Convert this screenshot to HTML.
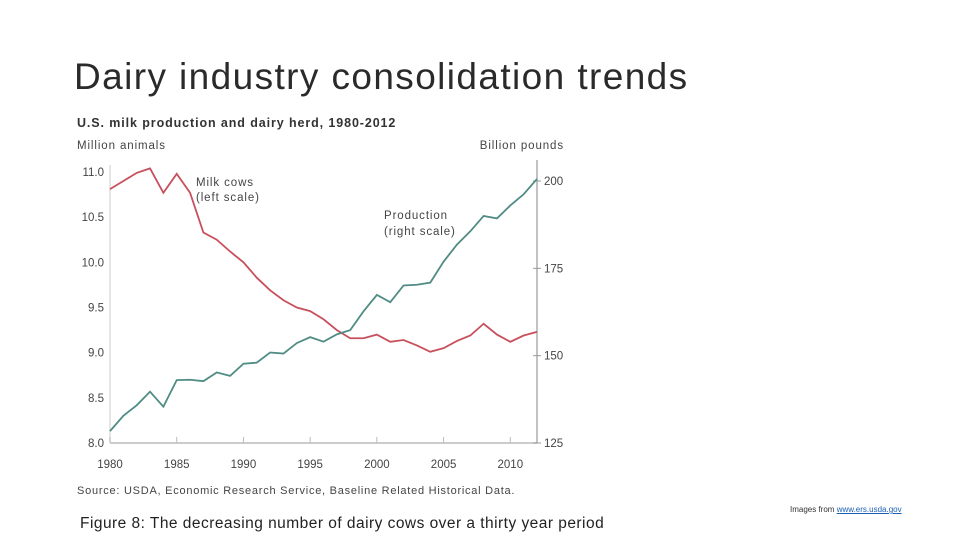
<!DOCTYPE html>
<html><head><meta charset="utf-8"><style>
body{margin:0;width:960px;height:540px;background:#fff;overflow:hidden;font-family:"Liberation Sans",sans-serif;}
.abs{position:absolute;white-space:nowrap}
svg text{letter-spacing:0.9px}
svg text.tick{letter-spacing:0}
</style></head><body>
<div class="abs" style="left:74px;top:56px;font-size:37px;color:#2a2a2a;letter-spacing:1.4px">Dairy industry consolidation trends</div>
<svg class="abs" style="left:0;top:0" width="960" height="540" id="chart">
<text x="77" y="127" font-size="12.5" font-weight="bold" fill="#333">U.S. milk production and dairy herd, 1980-2012</text>
<text x="77" y="149" font-size="11.5" fill="#444">Million animals</text>
<text x="564" y="149" font-size="11.5" fill="#444" text-anchor="end">Billion pounds</text>
<text x="196" y="186" font-size="11.5" fill="#444">Milk cows</text>
<text x="196" y="201" font-size="11.5" fill="#444">(left scale)</text>
<text x="384" y="219" font-size="11.5" fill="#444">Production</text>
<text x="384" y="235" font-size="11.5" fill="#444">(right scale)</text>
<text x="77" y="494" font-size="11" fill="#444" style="letter-spacing:0.75px">Source: USDA, Economic Research Service, Baseline Related Historical Data.</text>
<g id="plot"></g>
</svg>
<div class="abs" style="left:80px;top:515px;font-size:15.5px;color:#222;letter-spacing:0.47px">Figure 8: The decreasing number of dairy cows over a thirty year period</div>
<div class="abs" style="left:790px;top:505px;font-size:8px;color:#333">Images from <a href="#" style="color:#1a5fb4">www.ers.usda.gov</a></div>
<script>
const years=[1980,1981,1982,1983,1984,1985,1986,1987,1988,1989,1990,1991,1992,1993,1994,1995,1996,1997,1998,1999,2000,2001,2002,2003,2004,2005,2006,2007,2008,2009,2010,2011,2012];
const cows=[10.81,10.9,10.99,11.04,10.77,10.98,10.77,10.33,10.25,10.12,10.0,9.83,9.69,9.58,9.5,9.46,9.37,9.25,9.16,9.16,9.2,9.12,9.14,9.08,9.01,9.05,9.13,9.19,9.32,9.2,9.12,9.19,9.23];
const production=[128.4,132.8,135.8,139.7,135.4,143.0,143.1,142.7,145.2,144.2,147.7,148.0,150.9,150.6,153.6,155.3,154.0,156.1,157.3,162.7,167.4,165.3,170.1,170.3,170.9,176.9,181.8,185.6,190.0,189.3,193.0,196.2,200.6];
const xTicks=[1980,1985,1990,1995,2000,2005,2010];
const leftTicks=[8.0,8.5,9.0,9.5,10.0,10.5,11.0];
const rightTicks=[125,150,175,200];
const NS='http://www.w3.org/2000/svg';
const g=document.getElementById('plot');
const X=y=>110+(y-1980)*(537-110)/32;
const YL=v=>443-(v-8)*(443-172)/3;
const YR=v=>443-(v-125)*(443-181)/75;
function mk(t,a){const e=document.createElementNS(NS,t);for(const k in a)e.setAttribute(k,a[k]);g.appendChild(e);return e;}
let e=mk('line',{x1:110,y1:443,x2:537,y2:443,stroke:'#bbb','stroke-width':1.5});


e=mk('line',{x1:110,y1:165,x2:110,y2:443,stroke:'#ddd','stroke-width':1.5});


e=mk('line',{x1:537,y1:160,x2:537,y2:443,stroke:'#999','stroke-width':1.2});


xTicks.forEach(t=>{
 e=mk('line',{x1:X(t),y1:437,x2:X(t),y2:443,stroke:'#bbb'});
 
 
 e=mk('text',{x:X(t),y:468,'font-size':11.5,fill:'#444','text-anchor':'middle','class':'tick'});e.textContent=t;
 
 
});
leftTicks.forEach(t=>{
 e=mk('text',{x:104,y:YL(t)+4,'font-size':11.5,fill:'#444','text-anchor':'end','class':'tick'});e.textContent=t.toFixed(1);
 
 
});
rightTicks.forEach(t=>{
 e=mk('line',{x1:533,y1:YR(t),x2:541,y2:YR(t),stroke:'#999'});
 
 
 e=mk('text',{x:544,y:YR(t)+4,'font-size':11.5,fill:'#444','class':'tick'});e.textContent=t;
 
 
});
e=mk('polyline',{points:years.map((y,i)=>X(y)+','+YL(cows[i])).join(' '),fill:'none',stroke:'#c8505c','stroke-width':1.8});


e=mk('polyline',{points:years.map((y,i)=>X(y)+','+YR(production[i])).join(' '),fill:'none',stroke:'#4f8c84','stroke-width':1.8});


</script>
</body></html>
